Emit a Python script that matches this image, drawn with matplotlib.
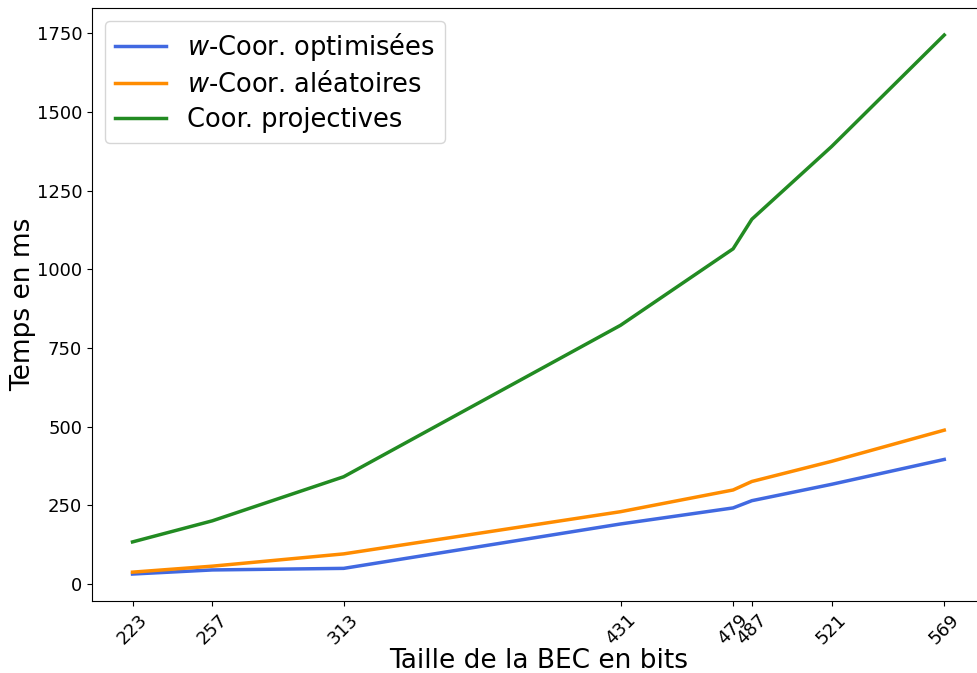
import matplotlib
matplotlib.use("Agg")
import matplotlib.pyplot as plt

tailles = [223, 257, 313, 431, 479, 487, 521, 569]
w_optimisees = [32, 45, 50, 191, 242, 265, 317, 396]
w_aleatoires = [38, 57, 96, 230, 299, 326, 390, 489]
projectives = [134, 201, 341, 822, 1065, 1159, 1390, 1744]

fig = plt.figure(figsize=(9.78, 6.73), dpi=100)
ax = fig.add_axes([0.094, 0.107, 0.913, 0.881])

ax.plot(tailles, w_optimisees, color='royalblue', lw=2.5, label=r'$w$-Coor. optimisées')
ax.plot(tailles, w_aleatoires, color='darkorange', lw=2.5, label=r'$w$-Coor. aléatoires')
ax.plot(tailles, projectives, color='forestgreen', lw=2.5, label='Coor. projectives')
ax.set_xlim(205.7, 586.3)

ax.set_xticks(tailles)
ax.set_xticklabels([str(t) for t in tailles], rotation=45, fontsize=13)
ax.tick_params(axis='y', labelsize=13)
ax.set_xlabel('Taille de la BEC en bits', fontsize=19, labelpad=0)
ax.set_ylabel('Temps en ms', fontsize=19, labelpad=0)
ax.legend(loc='upper left', fontsize=18.5, labelspacing=0.35, handlelength=2.0)

fig.savefig('out.png', dpi=100)
